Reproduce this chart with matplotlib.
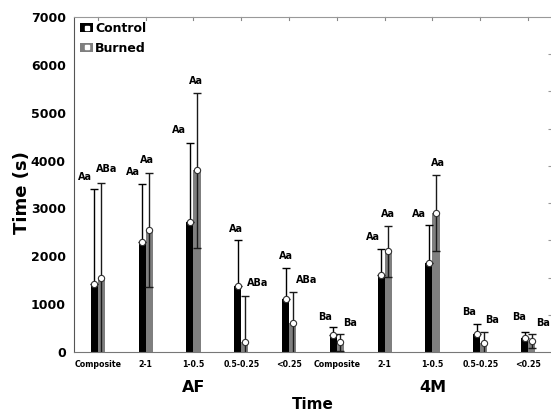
import matplotlib
matplotlib.use("Agg")
import matplotlib.pyplot as plt
import numpy as np
from matplotlib.patches import Patch
from matplotlib.lines import Line2D

plt.rcParams['font.family'] = ['DejaVu Sans']
plt.rcParams['font.weight'] = 'bold'

# Data
fractions = ["Composite", "2-1", "1-0.5", "0.5-0.25", "<0.25",
             "Composite", "2-1", "1-0.5", "0.5-0.25", "<0.25"]
groups = ["AF", "4M"]

control_mean = [1420, 2300, 2710, 1380, 1100, 360, 1600, 1850, 380, 290]
control_err = [1980, 1200, 1650, 950, 650, 170, 550, 800, 210, 130]
burned_mean = [1550, 2550, 3800, 210, 610, 200, 2100, 2900, 180, 230]
burned_err = [1980, 1200, 1620, 970, 650, 180, 540, 800, 240, 140]

control_letters = ["Aa", "Aa", "Aa", "Aa", "Aa", "Ba", "Aa", "Aa", "Ba", "Ba"]
burned_letters = ["ABa", "Aa", "Aa", "ABa", "ABa", "Ba", "Aa", "Aa", "Ba", "Ba"]

# label nudges (pixels) so letters sit where the original put them
control_dx = [-9.5, -9.5, -10.5, -1.5, 0, -8.5, -8.5, -9.5, -7.5, -5.5]
control_dy = [12, 12, 13, 11, 12, 10, 12, 11, 12, 15]
burned_dx = [5.5, -2.5, -1.5, 12.5, 13.5, 9.5, 0, 1.5, 8.5, 11.5]
burned_dy = [14, 13, 12, 13, 12, 11, 12, 12, 12, 11]

fig = plt.figure(figsize=(5.51, 4.17), dpi=100)
ax = fig.add_axes([0.1343, 0.1559, 0.8675, 0.8034])

x = np.arange(len(fractions))
w = 0.15
xc = x - w / 2
xb = x + w / 2

ax.bar(xc, control_mean, width=w, color="black", zorder=2)
ax.bar(xb, burned_mean, width=w, color="#7f7f7f", zorder=2)

# the lower half of the control bars is hidden in the black bar anyway
ax.errorbar(xc, control_mean, yerr=[np.zeros(len(x)), control_err], fmt="none",
            ecolor="black", elinewidth=1, capsize=3, capthick=1, zorder=3)
ax.errorbar(xb, burned_mean, yerr=burned_err, fmt="none", ecolor="#1a1a1a",
            elinewidth=1, capsize=3, capthick=1, zorder=3)

ax.plot(xc, control_mean, "o", ms=4.5, mfc="white", mec="#333333", mew=0.8, zorder=4)
ax.plot(xb, burned_mean, "o", ms=4.5, mfc="white", mec="#333333", mew=0.8, zorder=4)

for i in range(len(fractions)):
    ax.annotate(control_letters[i], (xc[i], control_mean[i] + control_err[i]),
                xytext=(control_dx[i], control_dy[i]), textcoords="offset pixels",
                ha="center", va="center", fontsize=7, fontweight="bold", zorder=5)
    ax.annotate(burned_letters[i], (xb[i], burned_mean[i] + burned_err[i]),
                xytext=(burned_dx[i], burned_dy[i]), textcoords="offset pixels",
                ha="center", va="center", fontsize=7, fontweight="bold", zorder=5)

ax.set_xlim(-0.5, len(fractions) - 0.5)
ax.set_ylim(0, 7000)
ax.set_yticks(np.arange(0, 7001, 1000))
ax.set_xticks(x)
ax.set_xticklabels(fractions, fontsize=5.7, fontweight="bold")
ax.tick_params(axis="x", length=0, pad=6)
ax.tick_params(axis="y", length=0, pad=6, labelsize=9)
for lab in ax.get_yticklabels():
    lab.set_fontweight("bold")

# top ticks at category centres, pointing inward
for xi in x:
    ax.plot([xi, xi], [7000, 7000 - 60], color="#888888", lw=0.8, clip_on=False, zorder=1)

ax.spines["left"].set_color("#555555")
ax.spines["bottom"].set_color("#777777")
ax.spines["top"].set_color("#999999")
ax.spines["right"].set_color("#999999")

# secondary axis ticks on the right (unlabelled)
ax2 = ax.twinx()
ax2.set_ylim(0, 9)
ax2.set_yticks(np.arange(1, 9))
ax2.tick_params(axis="y", direction="in", length=3, color="#999999", labelright=False)
for s in ax2.spines.values():
    s.set_visible(False)

# group labels and axis titles
for gi, g in enumerate(groups):
    ax.text(2 + 5 * gi, -0.107, g, transform=ax.get_xaxis_transform(),
            ha="center", va="center", fontsize=11.5, fontweight="bold")
ax.text(4.5, -0.158, "Time", transform=ax.get_xaxis_transform(),
        ha="center", va="center", fontsize=11, fontweight="bold")
fig.text(22 / 551, 1 - 193 / 417, "Time (s)", rotation=90, ha="center", va="center",
         fontsize=13, fontweight="bold")

handles = [
    (Patch(facecolor="black"), Line2D([], [], marker="s", ls="none", ms=2.5, mfc="white", mec="white")),
    (Patch(facecolor="#7f7f7f"), Line2D([], [], marker="s", ls="none", ms=2.5, mfc="white", mec="white")),
]
leg = ax.legend(handles, ["Control", "Burned"], loc="upper left",
                bbox_to_anchor=(0.012, 0.985), frameon=False, fontsize=9,
                handlelength=1.1, handleheight=0.75, handletextpad=0.15,
                labelspacing=0.55, borderaxespad=0, borderpad=0)
for t in leg.get_texts():
    t.set_fontweight("bold")

fig.savefig("out.png", dpi=100)
